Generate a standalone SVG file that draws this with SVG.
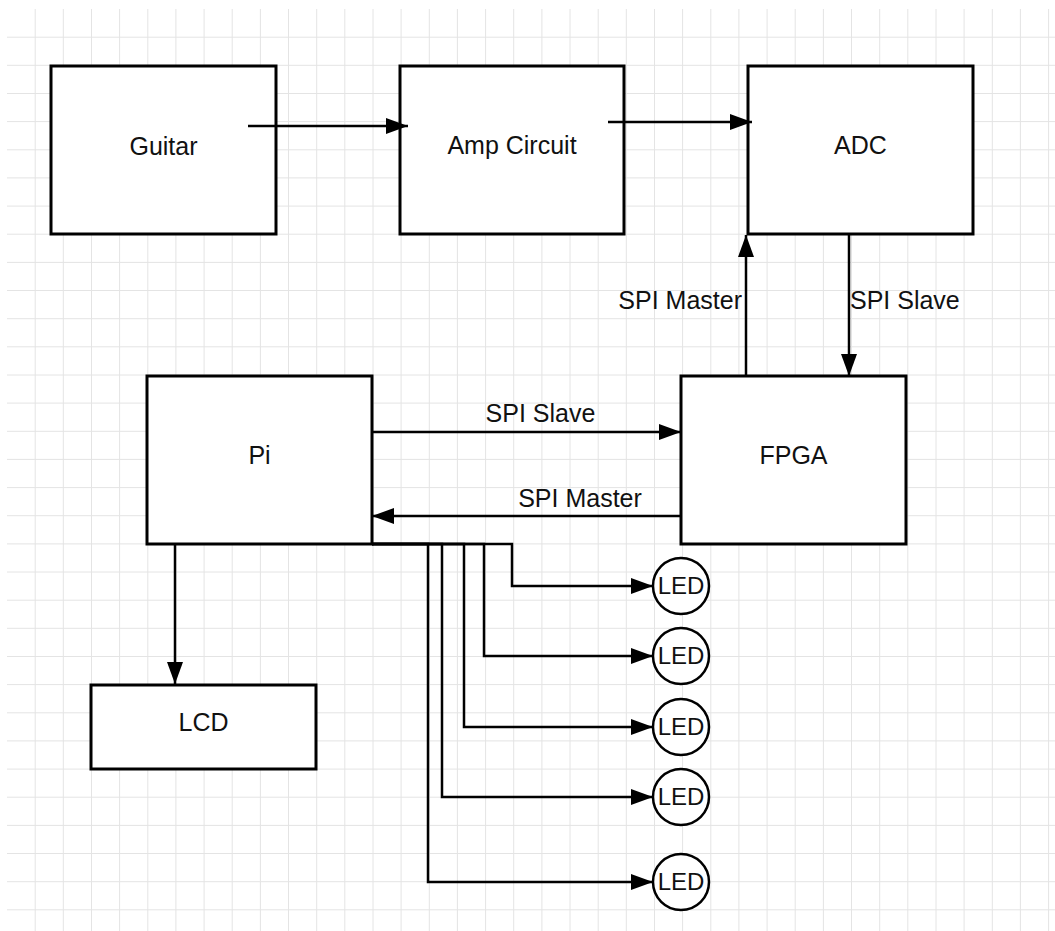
<svg xmlns="http://www.w3.org/2000/svg" width="1055" height="931" viewBox="0 0 1055 931">
  <style>
    .grid line { stroke: #e4e4e4; stroke-width: 1; }
    .box { fill: #ffffff; stroke: #000000; stroke-width: 3; }
    .led { fill: #ffffff; stroke: #000000; stroke-width: 2.5; }
    .lbl { font-family: "Liberation Sans", Arial, sans-serif; font-size: 25px; fill: #111111; }
    .c { text-anchor: middle; }
    .ledt { font-family: "Liberation Sans", Arial, sans-serif; font-size: 24px; fill: #111111; text-anchor: middle; }
    .wire { fill: none; stroke: #000000; stroke-width: 2.5; marker-end: url(#arrow); }
  </style>
  <defs>
    <marker id="arrow" markerUnits="userSpaceOnUse" markerWidth="22" markerHeight="16" refX="22" refY="8" orient="auto">
      <path d="M0,0 L22,8 L0,16 Z" fill="#000000"/>
    </marker>
  </defs>
  <rect width="1055" height="931" fill="#ffffff"/>
  <g class="grid" id="grid">
    <line x1="35.2" y1="9" x2="35.2" y2="931"/>
    <line x1="63.3" y1="9" x2="63.3" y2="931"/>
    <line x1="91.5" y1="9" x2="91.5" y2="931"/>
    <line x1="119.6" y1="9" x2="119.6" y2="931"/>
    <line x1="147.8" y1="9" x2="147.8" y2="931"/>
    <line x1="175.9" y1="9" x2="175.9" y2="931"/>
    <line x1="204.1" y1="9" x2="204.1" y2="931"/>
    <line x1="232.2" y1="9" x2="232.2" y2="931"/>
    <line x1="260.4" y1="9" x2="260.4" y2="931"/>
    <line x1="288.5" y1="9" x2="288.5" y2="931"/>
    <line x1="316.7" y1="9" x2="316.7" y2="931"/>
    <line x1="344.8" y1="9" x2="344.8" y2="931"/>
    <line x1="373.0" y1="9" x2="373.0" y2="931"/>
    <line x1="401.1" y1="9" x2="401.1" y2="931"/>
    <line x1="429.3" y1="9" x2="429.3" y2="931"/>
    <line x1="457.4" y1="9" x2="457.4" y2="931"/>
    <line x1="485.6" y1="9" x2="485.6" y2="931"/>
    <line x1="513.7" y1="9" x2="513.7" y2="931"/>
    <line x1="541.9" y1="9" x2="541.9" y2="931"/>
    <line x1="570.0" y1="9" x2="570.0" y2="931"/>
    <line x1="598.2" y1="9" x2="598.2" y2="931"/>
    <line x1="626.3" y1="9" x2="626.3" y2="931"/>
    <line x1="654.5" y1="9" x2="654.5" y2="931"/>
    <line x1="682.6" y1="9" x2="682.6" y2="931"/>
    <line x1="710.8" y1="9" x2="710.8" y2="931"/>
    <line x1="738.9" y1="9" x2="738.9" y2="931"/>
    <line x1="767.1" y1="9" x2="767.1" y2="931"/>
    <line x1="795.2" y1="9" x2="795.2" y2="931"/>
    <line x1="823.4" y1="9" x2="823.4" y2="931"/>
    <line x1="851.5" y1="9" x2="851.5" y2="931"/>
    <line x1="879.7" y1="9" x2="879.7" y2="931"/>
    <line x1="907.8" y1="9" x2="907.8" y2="931"/>
    <line x1="936.0" y1="9" x2="936.0" y2="931"/>
    <line x1="964.1" y1="9" x2="964.1" y2="931"/>
    <line x1="992.3" y1="9" x2="992.3" y2="931"/>
    <line x1="1020.4" y1="9" x2="1020.4" y2="931"/>
    <line x1="1048.6" y1="9" x2="1048.6" y2="931"/>
    <line x1="7" y1="37.2" x2="1055" y2="37.2"/>
    <line x1="7" y1="65.3" x2="1055" y2="65.3"/>
    <line x1="7" y1="93.5" x2="1055" y2="93.5"/>
    <line x1="7" y1="121.6" x2="1055" y2="121.6"/>
    <line x1="7" y1="149.8" x2="1055" y2="149.8"/>
    <line x1="7" y1="177.9" x2="1055" y2="177.9"/>
    <line x1="7" y1="206.1" x2="1055" y2="206.1"/>
    <line x1="7" y1="234.2" x2="1055" y2="234.2"/>
    <line x1="7" y1="262.4" x2="1055" y2="262.4"/>
    <line x1="7" y1="290.5" x2="1055" y2="290.5"/>
    <line x1="7" y1="318.7" x2="1055" y2="318.7"/>
    <line x1="7" y1="346.8" x2="1055" y2="346.8"/>
    <line x1="7" y1="375.0" x2="1055" y2="375.0"/>
    <line x1="7" y1="403.1" x2="1055" y2="403.1"/>
    <line x1="7" y1="431.3" x2="1055" y2="431.3"/>
    <line x1="7" y1="459.4" x2="1055" y2="459.4"/>
    <line x1="7" y1="487.6" x2="1055" y2="487.6"/>
    <line x1="7" y1="515.7" x2="1055" y2="515.7"/>
    <line x1="7" y1="543.9" x2="1055" y2="543.9"/>
    <line x1="7" y1="572.0" x2="1055" y2="572.0"/>
    <line x1="7" y1="600.2" x2="1055" y2="600.2"/>
    <line x1="7" y1="628.3" x2="1055" y2="628.3"/>
    <line x1="7" y1="656.5" x2="1055" y2="656.5"/>
    <line x1="7" y1="684.6" x2="1055" y2="684.6"/>
    <line x1="7" y1="712.8" x2="1055" y2="712.8"/>
    <line x1="7" y1="740.9" x2="1055" y2="740.9"/>
    <line x1="7" y1="769.1" x2="1055" y2="769.1"/>
    <line x1="7" y1="797.2" x2="1055" y2="797.2"/>
    <line x1="7" y1="825.4" x2="1055" y2="825.4"/>
    <line x1="7" y1="853.5" x2="1055" y2="853.5"/>
    <line x1="7" y1="881.7" x2="1055" y2="881.7"/>
    <line x1="7" y1="909.8" x2="1055" y2="909.8"/>
  </g>

  <g id="node-guitar">
    <rect class="box" x="51" y="66" width="225" height="168"/>
    <text class="lbl c" x="163.5" y="155">Guitar</text>
  </g>
  <g id="node-amp">
    <rect class="box" x="400" y="66" width="224" height="168"/>
    <text class="lbl c" x="512" y="154">Amp Circuit</text>
  </g>
  <g id="node-adc">
    <rect class="box" x="748" y="66" width="225" height="168"/>
    <text class="lbl c" x="860.5" y="154">ADC</text>
  </g>
  <g id="node-pi">
    <rect class="box" x="147" y="376" width="225" height="168"/>
    <text class="lbl c" x="259.5" y="464">Pi</text>
  </g>
  <g id="node-fpga">
    <rect class="box" x="681" y="376" width="225" height="168"/>
    <text class="lbl c" x="793.5" y="464">FPGA</text>
  </g>
  <g id="node-lcd">
    <rect class="box" x="91" y="685" width="225" height="84"/>
    <text class="lbl c" x="203.5" y="731">LCD</text>
  </g>
  <g id="node-led1">
    <circle class="led" cx="681" cy="586" r="28"/>
    <text class="ledt" x="681" y="594">LED</text>
  </g>
  <g id="node-led2">
    <circle class="led" cx="681" cy="656" r="28"/>
    <text class="ledt" x="681" y="664">LED</text>
  </g>
  <g id="node-led3">
    <circle class="led" cx="681" cy="727" r="28"/>
    <text class="ledt" x="681" y="735">LED</text>
  </g>
  <g id="node-led4">
    <circle class="led" cx="681" cy="797" r="28"/>
    <text class="ledt" x="681" y="805">LED</text>
  </g>
  <g id="node-led5">
    <circle class="led" cx="681" cy="882" r="28"/>
    <text class="ledt" x="681" y="890">LED</text>
  </g>

  <g id="connectors">
    <path class="wire" d="M248,126 H408"/>
    <path class="wire" d="M608,122 H752"/>
    <path class="wire" d="M746,376 V235"/>
    <path class="wire" d="M849,235 V376"/>
    <path class="wire" d="M372,432 H681"/>
    <path class="wire" d="M681,516 H372"/>
    <path class="wire" d="M175,544 V684"/>
    <path class="wire" d="M372,544 H512 V586 H653"/>
    <path class="wire" d="M372,544 H484 V656 H653"/>
    <path class="wire" d="M372,544 H464 V727 H653"/>
    <path class="wire" d="M372,544 H442 V797 H653"/>
    <path class="wire" d="M372,544 H428 V882 H653"/>
    <text class="lbl" x="742" y="309" text-anchor="end">SPI Master</text>
    <text class="lbl" x="850" y="309">SPI Slave</text>
    <text class="lbl c" x="540.5" y="422">SPI Slave</text>
    <text class="lbl c" x="580" y="507">SPI Master</text>
  </g>
</svg>
